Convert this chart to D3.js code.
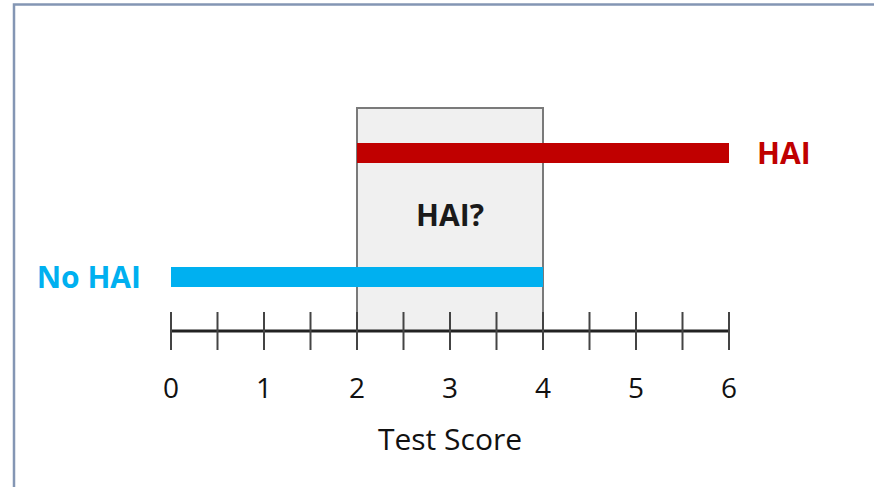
<!DOCTYPE html>
<html>
<head>
<meta charset="utf-8">
<script src="https://cdn.jsdelivr.net/npm/d3@7"></script>
<style>
	body { margin: 0; background: #fff; }
	svg { display: block; font-family: "Open Sans", "DejaVu Sans", sans-serif; }
</style>
</head>
<body>
<svg id="chart" width="874" height="487"></svg>
<script>

// data
var bars = ["No HAI", "HAI"];
var barStart = [0, 2];
var barEnd = [4, 6];
var barColor = ["#00b0f0", "#c00000"];
var zone = [2, 4];
var zoneLabel = "HAI?";
var tickValues = [0, 1, 2, 3, 4, 5, 6];
var minorTicks = [0, 0.5, 1, 1.5, 2, 2.5, 3, 3.5, 4, 4.5, 5, 5.5, 6];
var axisTitle = "Test Score";


var svg = d3.select("#chart");

var x = d3.scaleLinear().domain([0, 6]).range([171, 729]);
var y = d3.scalePoint().domain(["HAI", "No HAI"]).range([153, 277]);

var axisY = 331;

// frame
svg.append("path")
	.attr("d", "M14,487V4.5H874")
	.attr("fill", "none")
	.attr("stroke", "#8496b4")
	.attr("stroke-width", 2.5);

// uncertain zone
svg.append("rect")
	.attr("x", x(zone[0]))
	.attr("y", 108)
	.attr("width", x(zone[1]) - x(zone[0]))
	.attr("height", axisY - 108)
	.attr("fill", "#f0f0f0")
	.attr("stroke", "#7a7a7a")
	.attr("stroke-width", 2);

svg.append("text")
	.attr("x", (x(zone[0]) + x(zone[1])) / 2)
	.attr("y", 226)
	.attr("text-anchor", "middle")
	.attr("font-weight", "bold")
	.attr("font-size", 30)
	.attr("fill", "#1a1a1a")
	.text(zoneLabel);

// bars
bars.forEach(function(b, i)
{
	svg.append("rect")
		.attr("x", x(barStart[i]))
		.attr("y", y(b) - 10)
		.attr("width", x(barEnd[i]) - x(barStart[i]))
		.attr("height", 20)
		.attr("fill", barColor[i]);
});

svg.append("text")
	.attr("x", x(barEnd[1]) + 28)
	.attr("y", y("HAI") + 11)
	.attr("font-weight", "bold")
	.attr("font-size", 30)
	.attr("fill", barColor[1])
	.text("HAI");

svg.append("text")
	.attr("x", x(barStart[0]) - 30)
	.attr("y", y("No HAI") + 11)
	.attr("text-anchor", "end")
	.attr("font-weight", "bold")
	.attr("font-size", 30)
	.attr("fill", barColor[0])
	.text("No HAI");

// axis
svg.append("line")
	.attr("x1", x(0))
	.attr("x2", x(6))
	.attr("y1", axisY)
	.attr("y2", axisY)
	.attr("stroke", "#222")
	.attr("stroke-width", 3);

svg.selectAll(".tick")
	.data(minorTicks)
	.enter()
	.append("line")
	.attr("class", "tick")
	.attr("x1", function(d) { return x(d); })
	.attr("x2", function(d) { return x(d); })
	.attr("y1", 312)
	.attr("y2", 350)
	.attr("stroke", "#444")
	.attr("stroke-width", 2);

svg.selectAll(".ticklabel")
	.data(tickValues)
	.enter()
	.append("text")
	.attr("class", "ticklabel")
	.attr("x", function(d) { return x(d); })
	.attr("y", 398)
	.attr("text-anchor", "middle")
	.attr("font-size", 28)
	.attr("fill", "#111")
	.text(function(d) { return d; });

svg.append("text")
	.attr("x", (x(0) + x(6)) / 2)
	.attr("y", 450)
	.attr("text-anchor", "middle")
	.attr("font-size", 30)
	.attr("fill", "#111")
	.text(axisTitle);

</script>
</body>
</html>
